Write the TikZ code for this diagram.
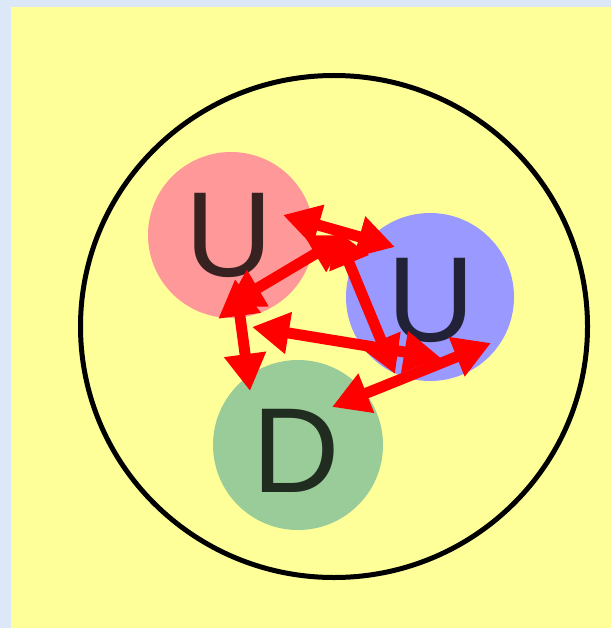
\documentclass[tikz,border=0pt]{standalone}
\usepackage{fontspec}
\setmainfont{Liberation Sans}
\usetikzlibrary{arrows.meta,shapes.geometric}
\definecolor{paper}{HTML}{FFFF99}
\definecolor{frame}{HTML}{DCE8F8}
\definecolor{quarkred}{HTML}{FF9999}
\definecolor{quarkblue}{HTML}{9999FF}
\definecolor{quarkgreen}{HTML}{99CC99}
\begin{document}
\begin{tikzpicture}[x=1pt,y=-1pt,
  quark/.style={circle, minimum size=#1, inner sep=0pt},
  flavour/.style={font=\fontsize{121}{121}\selectfont, text=black, text opacity=0.78, inner sep=0pt},
  gluon/.style={draw=red, line width=11pt,
    {Triangle[length=37pt,width=40pt]}-{Triangle[length=37pt,width=40pt]}}]
  % page and backdrop
  \fill[frame] (0,0) rectangle (611,628);
  \useasboundingbox (0,0) rectangle (611,628);
  \fill[paper] (11,7) rectangle (611,628);
  % hadron boundary
  \node[ellipse, draw=black, line width=5pt, minimum width=507pt, minimum height=502pt, inner sep=0pt] (hadron) at (334,326.5) {};
  % the three quarks
  \node[quark=166pt, fill=quarkred] (qr) at (231,235) {};
  \node[quark=168pt, fill=quarkblue] (qb) at (430,297) {};
  \node[quark=170pt, fill=quarkgreen] (qg) at (298,445) {};
  \node[flavour] (ur) at (229,235) {U};
  \node[flavour] (ub) at (431,300) {U};
  \node[flavour] (dg) at (296,451) {D};
  % gluon exchange end points
  \coordinate (a1) at (283,215); \coordinate (b1) at (395,247);
  \coordinate (a2) at (226,307); \coordinate (b2) at (347,235);
  \coordinate (a3) at (335,229); \coordinate (b3) at (395,374);
  \coordinate (a4) at (252,327); \coordinate (b4) at (441,358);
  \coordinate (a5) at (332,407); \coordinate (b5) at (491,343);
  \coordinate (a6) at (235,279); \coordinate (b6) at (250,391);
  % gluons
  \draw[gluon] (a1) -- (b1);
  \draw[gluon] (a2) -- (b2);
  \draw[gluon] (a3) -- (b3);
  \draw[gluon] (a4) -- (b4);
  \draw[gluon] (a5) -- (b5);
  \draw[gluon] (a6) -- (b6);
\end{tikzpicture}
\end{document}
